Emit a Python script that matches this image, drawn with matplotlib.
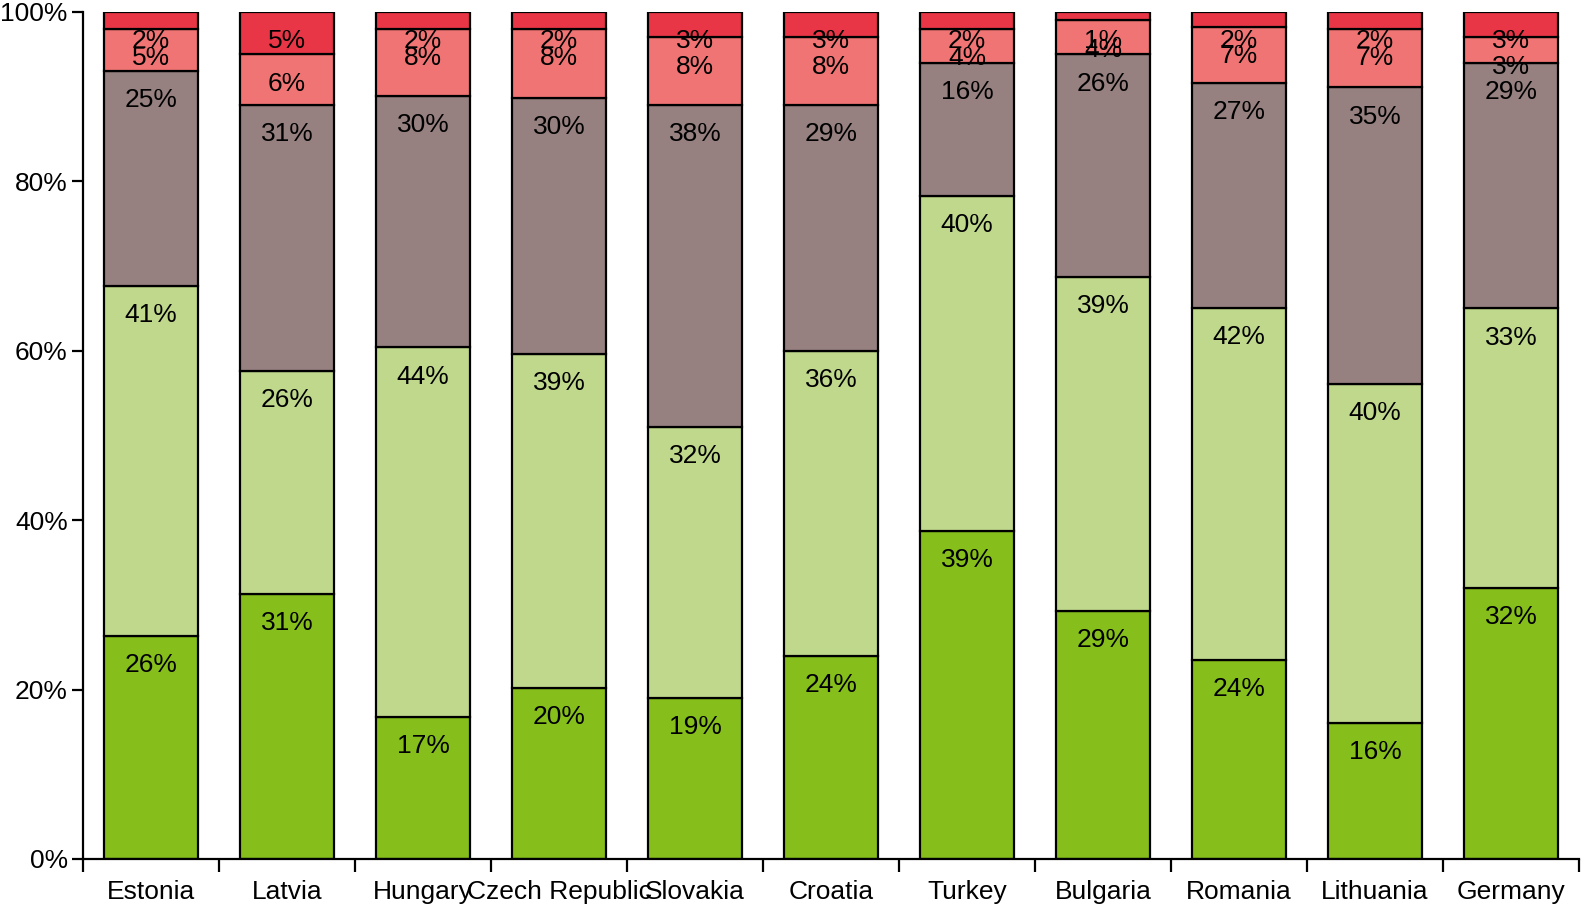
import numpy as np
import matplotlib
matplotlib.use("Agg")
import matplotlib.pyplot as plt
from matplotlib.ticker import FuncFormatter, FixedLocator

plt.rcParams['font.family'] = ['Liberation Sans', 'DejaVu Sans']

countries = ["Estonia", "Latvia", "Hungary", "Czech Republic", "Slovakia", "Croatia",
             "Turkey", "Bulgaria", "Romania", "Lithuania", "Germany"]

# shares in percent, bottom to top
seg1 = [26.3, 31.3, 16.8, 20.2, 19.0, 24.0, 38.7, 29.3, 23.55, 16.1, 32.0]
seg2 = [41.4, 26.3, 43.6, 39.4, 32.0, 36.0, 39.6, 39.4, 41.55, 40.0, 33.0]
seg3 = [25.3, 31.4, 29.7, 30.3, 38.0, 29.0, 15.7, 26.3, 26.55, 35.0, 29.0]
seg4 = [5.0, 6.0, 7.9, 8.1, 8.0, 8.0, 4.0, 4.0, 6.55, 6.9, 3.0]
seg5 = [2.0, 5.0, 2.0, 2.0, 3.0, 3.0, 2.0, 1.0, 1.8, 2.0, 3.0]

colors = ["#86be1b", "#c0d88c", "#968080", "#f07474", "#e83646"]

fig = plt.figure(figsize=(15.81, 9.07), dpi=100)
ax = fig.add_axes([83 / 1581, 48 / 907, (1579 - 83) / 1581, 847 / 907])

x = np.arange(len(countries))
bottom = np.zeros(len(countries))
for vals, col in zip([seg1, seg2, seg3, seg4, seg5], colors):
    vals = np.array(vals)
    ax.bar(x, vals, bottom=bottom, width=0.685, color=col, edgecolor='black', linewidth=1.6)
    for xi, b, v in zip(x, bottom, vals):
        ax.annotate("%d%%" % int(v + 0.5), (xi, b + v), xytext=(0, -21), textcoords='offset points',
                    ha='center', va='center', fontsize=19, color='black')
    bottom = bottom + vals

ax.set_xlim(-0.5, len(countries) - 0.5)
ax.set_ylim(0, 100)

for s in ['top', 'right']:
    ax.spines[s].set_visible(False)
ax.spines['left'].set_linewidth(1.6)
ax.spines['bottom'].set_linewidth(1.6)

ax.set_yticks([0, 20, 40, 60, 80, 100])
ax.yaxis.set_major_formatter(FuncFormatter(lambda v, p: "%d%%" % v))
ax.tick_params(axis='y', length=8, width=1.6, labelsize=19, pad=3)

ax.xaxis.set_major_locator(FixedLocator(np.arange(-0.5, len(countries), 1.0)))
ax.xaxis.set_major_formatter(FuncFormatter(lambda v, p: ""))
ax.set_xticks(x, minor=True)
ax.set_xticklabels(countries, minor=True)
ax.tick_params(axis='x', which='major', length=9.5, width=1.6)
ax.tick_params(axis='x', which='minor', length=0, labelsize=19, pad=15)

fig.savefig("out.png", dpi=100)
